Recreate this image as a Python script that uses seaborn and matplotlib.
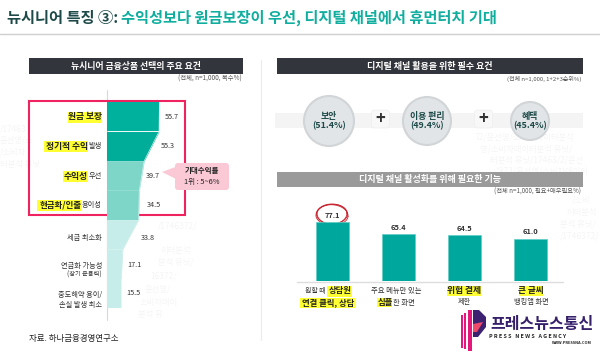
import numpy as np
import pandas as pd
import seaborn as sns
import matplotlib.pyplot as plt
from matplotlib.patches import Rectangle, FancyBboxPatch, Circle, Polygon

# left funnel
need_labels = ["원금 보장", "정기적 수익 발생", "수익성 우선", "현금화/인출 용이성",
               "세금 최소화", "연금화 가능성", "중도해약 용이/손실 발생 최소"]
need_values = [55.7, 55.3, 39.7, 34.5, 33.8, 17.1, 15.5]
need_colors = ["#00b19d", "#00ad99", "#7ed6c9", "#7ed6c9", "#c6ede9", "#c6ede9", "#c6ede9"]

# right bars
func_labels = ["상담원 연결", "심플한 화면", "위험 결제 제한", "큰 글씨"]
func_values = [77.1, 65.4, 64.5, 61.0]

# circles
circle_labels = ["보안\n(51.4%)", "이용 편리\n(49.4%)", "혜택\n(45.4%)"]

# pale stamp behind the page
stamp_lines = [(475, 137, "72/윤선영/소비자데이터분석"), (480, 149, "영/소비자데이터분석 유닛/"),
               (490, 160, "터분석 유닛/17463/2/윤선"), (495, 171, "*372/윤선영/소비자데이터"),
               (572, 200, "/소비"), (566, 212, "이터분석"), (560, 224, "분석 유닛/"),
               (560, 236, "/1746372/"), (0, 129, "/17463"), (0, 140, "윤선영/소"),
               (0, 152, "/소비자"), (0, 164, "터분석 유닛"), (158, 226, "/1746372/"),
               (160, 250, "이터분석"), (158, 262, "분석 유닛/"), (150, 276, "16372/"),
               (145, 289, "윤선영/"), (140, 302, "소비자데이"), (138, 315, "분석 유")]

sns.set_theme(style="white")
plt.rcParams['font.family'] = ['Noto Sans CJK KR', 'DejaVu Sans']

fig = plt.figure(figsize=(6, 3.53), dpi=100)
W, H = 600, 353

# full figure overlay in pixels, everything decorative goes here
bg = fig.add_axes([0, 0, 1, 1])
bg.set_xlim(0, W)
bg.set_ylim(H, 0)
bg.axis("off")


def txt(x, y, s, size=5, color="#333333", ha="left", weight="normal", ax=bg, **kw):
    ax.text(x, y, s, fontsize=size, color=color, ha=ha, va="center", fontweight=weight, **kw)


def mark(x0, x1, y0, y1, color="#ffff33", z=0.5):
    bg.add_patch(Rectangle((x0, y0), x1 - x0, y1 - y0, color=color, lw=0, zorder=z))


for x, y, s in stamp_lines:
    txt(x, y, s, size=6, color="#f5f5f5", zorder=0.1)

# title
txt(7, 18, "뉴시니어 특징 ③:", size=11, color="#1d4a48", weight="bold")
txt(121, 18, "수익성보다 원금보장이 우선, 디지털 채널에서 휴먼터치 기대", size=11, color="#0fae9f", weight="bold")
bg.plot([0, 600], [34, 34], color="#cfcfcf", lw=1)
bg.plot([261, 261], [60, 340], color="#ececec", lw=0.8)

# header bars
bg.add_patch(Rectangle((29, 58), 214, 16, color="#33353c", lw=0))
bg.add_patch(Rectangle((277, 58), 306, 16, color="#33353c", lw=0))
bg.add_patch(Rectangle((277, 172), 306, 15, color="#9a9a9a", lw=0))
txt(136, 66, "뉴시니어 금융상품 선택의 주요 요건", size=6.4, color="white", ha="center", weight="bold")
txt(430, 66, "디지털 채널 활용을 위한 필수 요건", size=6.5, color="white", ha="center", weight="bold")
txt(430, 179, "디지털 채널 활성화를 위해 필요한 기능", size=6.5, color="white", ha="center", weight="bold")
txt(242, 79, "(전체, n=1,000, 복수%)", size=4.6, color="#555555", ha="right")
txt(581, 79, "(전체 n=1,000, 1+2+3순위%)", size=4.3, color="#555555", ha="right")
txt(581, 192, "(전체 n=1,000, 필요+매우필요%)", size=4.5, color="#555555", ha="right")

# funnel, x scale from the value labels, rows are one unit high
ax = fig.add_axes([106.5 / W, 1 - 308 / H, 95 / W, 206 / H])
ax.patch.set_alpha(0)
edges = need_values + [need_values[-1]]
for i, c in enumerate(need_colors):
    right = [need_values[0], need_values[0]] if i == 0 else [need_values[1] if i == 1 else edges[i], edges[i + 1]]
    ax.fill_betweenx([i, i + 1], 0, right, color=c, lw=0)
funnel = pd.DataFrame({"value": edges, "row": range(8)})
sns.lineplot(data=funnel, x="value", y="row", orient="y", sort=False, color="#d5f0ec", lw=0.5, ax=ax)
ax.set_xlim(0, 100)
ax.set_ylim(7, 0)
ax.axis("off")
bg.plot([106.5, 106.5], [90, 320], color="#d8d8d8", lw=0.8)

value_x = [172, 168, 153, 154, 148, 134, 133]
value_y = [117, 146, 176, 205, 238, 265, 293]
for x, y, v in zip(value_x, value_y, need_values):
    txt(x, y, f"{v}", size=5.2, ha="center", color="#333333")

# left labels
mark(68, 102, 112, 123)
mark(44, 88, 141, 152)
mark(63, 88, 171, 182)
mark(37, 82, 200, 211)
txt(102, 117, "원금 보장", size=6.3, ha="right", weight="bold", color="#222222")
txt(87.5, 146, "정기적 수익", size=6.3, ha="right", weight="bold", color="#222222")
txt(102, 146, "발생", size=5.2, ha="right")
txt(87.5, 176, "수익성", size=6.3, ha="right", weight="bold", color="#222222")
txt(102, 176, "우선", size=5.2, ha="right")
txt(81.5, 205, "현금화/인출", size=6.1, ha="right", weight="bold", color="#222222")
txt(102, 205, "용이성", size=5.2, ha="right")
txt(102, 238, "세금 최소화", size=5.2, ha="right")
txt(102, 266, "연금화 가능성", size=5.2, ha="right")
txt(102, 275, "(장기 운용력)", size=4.5, ha="right")
txt(102, 295, "중도해약 용이/", size=5.2, ha="right")
txt(102, 305, "손실 발생 최소", size=5.2, ha="right")
txt(29, 339, "자료. 하나금융경영연구소", size=6.1, color="#222222")

# red box and pink callout
bg.add_patch(Rectangle((29, 101), 156, 114, fill=False, ec="#ee2360", lw=1.5, zorder=5))
bg.add_patch(FancyBboxPatch((177, 165), 50, 23, boxstyle="round,pad=2,rounding_size=3", fc="#fbc9d6", ec="none", zorder=6))
bg.add_patch(Polygon([[162, 172], [178, 166], [178, 180]], fc="#fbc9d6", ec="none", zorder=6))
txt(202, 171, "기대수익률", size=5.4, ha="center", weight="bold", color="#222222", zorder=7)
txt(202, 182, "1위 : 5~6%", size=5.4, ha="center", color="#222222", zorder=7)

# circles on a pale band
bg.add_patch(Rectangle((275, 113), 308, 15, color="#f4f4f4", lw=0))
for (cx, cy, r), s in zip([(329, 121, 25), (427, 121, 24), (530, 121, 19)], circle_labels):
    bg.add_patch(Circle((cx, cy), r, fc="#e2e5e8", ec="#d2d5d8", lw=1.5, zorder=2))
    txt(cx, cy, s, size=6.4, ha="center", color="#1d4a48", weight="bold", zorder=3, linespacing=1.1,
        multialignment="center")
for cx in [380.5, 483.5]:
    bg.add_patch(FancyBboxPatch((cx - 8, 111), 16, 16, boxstyle="round,pad=1,rounding_size=3", fc="#f8f8f8", ec="#eeeeee", lw=0.5, zorder=2))
    txt(cx, 119, "+", size=12, ha="center", color="#333333", weight="bold", zorder=3)

# right bars, the axis is cut at about 20 as in the picture
bx = fig.add_axes([299.5 / W, 1 - 281 / H, 264 / W, 80 / H])
bx.patch.set_alpha(0)
sns.barplot(x=func_labels, y=func_values, color="#00a79d", width=0.5, saturation=1, ax=bx,
            edgecolor="#5fcfc6", linewidth=0.5)
bx.set_ylim(19.5, 98)
bx.set_xlim(-0.5, 3.5)
bx.axis("off")
bg.plot([297, 563], [281.5, 281.5], color="#dddddd", lw=1)
for i, v in enumerate(func_values):
    bx.text(i, v + 3.5, f"{v:.1f}", ha="center", va="bottom", fontsize=5.4, color="#333333", fontweight="bold")

# hand drawn ring round the top value
for dx, dy, a in [(0, 0, 0), (0.6, 0.8, 6), (-0.6, 0.4, -5)]:
    t = np.linspace(0, 2 * np.pi, 60)
    ct, st = np.cos(np.radians(a)), np.sin(np.radians(a))
    ex, ey = 15.5 * np.cos(t), 10 * np.sin(t)
    bg.plot(332 + dx + ex * ct - ey * st, 214 + dy + ex * st + ey * ct, color="#c9202c", lw=0.6, zorder=6)

# bar captions
mark(327, 352, 286, 297)
mark(300, 355, 298, 308)
mark(377, 392, 298, 307)
mark(447, 481, 286, 296)
mark(519, 543, 286, 296)
txt(326, 291, "원할 때", size=5, ha="right")
txt(340, 291, "상담원", size=6, ha="center", weight="bold", color="#222222")
txt(328, 303, "연결 클릭, 상담", size=6, ha="center", weight="bold", color="#222222")
txt(396, 291, "주요 메뉴만 있는", size=5.3, ha="center")
txt(385, 303, "심플", size=6, ha="center", weight="bold", color="#222222")
txt(393, 303, "한 화면", size=5.3, ha="left")
txt(464, 291, "위험 결제", size=6.3, ha="center", weight="bold", color="#222222")
txt(464, 302, "제한", size=5.2, ha="center")
txt(531, 291, "큰 글씨", size=6.2, ha="center", weight="bold", color="#222222")
txt(531, 302, "뱅킹앱 화면", size=5.2, ha="center")

# agency logo
for x0, x1, y0, y1 in [(461, 463, 315, 348), (464, 466, 313, 349), (467.5, 472, 310, 351)]:
    bg.add_patch(Rectangle((x0, y0), x1 - x0, y1 - y0, color="#e5177b", lw=0, zorder=8))
bg.add_patch(Polygon([[473, 310], [479, 310], [486, 317], [486, 327], [478, 337], [473, 337]], fc="#3c2270", ec="none", zorder=8))
bg.add_patch(Polygon([[473, 324], [483, 322], [477, 332], [473, 332]], fc="#ef4a6a", ec="none", zorder=9))
txt(490, 324, "프레스뉴스통신", size=11.5, color="#37206b", weight="bold", zorder=9)
txt(489, 337, "P R E S S   N E W S   A G E N C Y", size=3.9, color="#222222", weight="bold", zorder=9)
txt(592, 343, "WWW.PRESSNA.COM", size=2.8, color="#222222", ha="right", weight="bold", zorder=9)

fig.savefig("out.png", dpi=100)
